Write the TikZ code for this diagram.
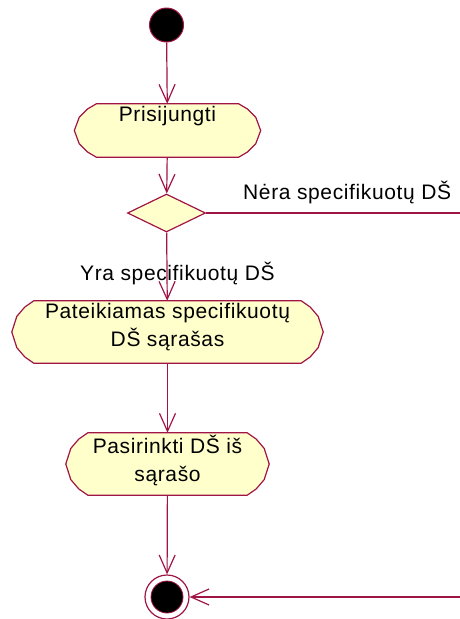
\documentclass[tikz,border=0pt]{standalone}
\usepackage{fontspec}
\setmainfont{Liberation Sans}[LetterSpace=3]
\usetikzlibrary{arrows.meta,shapes.geometric,backgrounds,calc}
\definecolor{flowline}{RGB}{160,20,70}
\definecolor{actfill}{RGB}{255,255,204}
\tikzset{
  flow/.style={draw=flowline, line width=1.2pt},
  arr/.style={flow, -{Straight Barb[length=18pt,width=16pt,line width=1.2pt]}},
  slot/.style={rectangle, inner sep=0pt, draw=none},
  lbl/.style={font=\fontsize{21}{28}\selectfont, align=center, inner sep=0pt},
  acttext/.style={lbl, anchor=north, yshift=-2.5pt},
}
% Activity outline: flat top and bottom, faceted rounded ends
\newcommand\actoutline[1]{%
  \draw[flow, fill=actfill, line join=round]
    let \p1=(#1.north west), \p2=(#1.south east), \n1={\y1-\y2} in
    ({\x1+22pt},\y1) -- ({\x2-22pt},\y1)
    -- ({\x2-13pt},{\y1-0.1*\n1}) -- ({\x2-5pt},{\y1-0.25*\n1})
    -- (\x2,{\y1-0.5*\n1})
    -- ({\x2-5pt},{\y1-0.75*\n1}) -- ({\x2-13pt},{\y1-0.9*\n1})
    -- ({\x2-22pt},\y2) -- ({\x1+22pt},\y2)
    -- ({\x1+13pt},{\y1-0.9*\n1}) -- ({\x1+5pt},{\y1-0.75*\n1})
    -- (\x1,{\y1-0.5*\n1})
    -- ({\x1+5pt},{\y1-0.25*\n1}) -- ({\x1+13pt},{\y1-0.1*\n1})
    -- cycle;}
\begin{document}
\begin{tikzpicture}[x=1pt,y=-1pt]
  \useasboundingbox (0,0) rectangle (460,619);

  % initial state
  \node[circle, fill=black, draw=flowline, line width=1pt, minimum size=34pt, inner sep=0pt] (start) at (166.5,25) {};

  % activities
  \node[slot, minimum width=186pt, minimum height=53pt] (login) at (167.5,130.5) {};
  \node[acttext] (login-t) at (login.north) {Prisijungti};

  \node[diamond, flow, fill=actfill, minimum width=78pt, minimum height=38pt, inner sep=0pt] (dec) at (166.5,213) {};
  \node[lbl, anchor=west] (no-lbl) at (243,193) {Nėra specifikuotų DŠ};
  \node[lbl, anchor=west] (yes-lbl) at (80,274) {Yra specifikuotų DŠ};

  \node[slot, minimum width=311pt, minimum height=62pt] (list) at (167.5,332) {};
  \node[acttext] (list-t) at (list.north) {Pateikiamas specifikuotų\\DŠ sąrašas};

  \node[slot, minimum width=203pt, minimum height=62pt] (choose) at (167.5,464) {};
  \node[acttext] (choose-t) at (choose.north) {Pasirinkti DŠ iš\\sąrašo};

  % final state
  \node[circle, draw=flowline, fill=white, line width=1.2pt, minimum size=44pt, inner sep=0pt] (end) at (167,597) {};
  \node[circle, fill=black, draw=flowline, line width=0.8pt, minimum size=32pt, inner sep=0pt] (end-dot) at (end) {};

  % loose ends of the "none" branch at the right edge
  \coordinate (no-exit) at (460,213);
  \coordinate (no-entry) at (460,597);

  \begin{scope}[on background layer]
    \actoutline{login}
    \actoutline{list}
    \actoutline{choose}
  \end{scope}

  % transitions
  \draw[arr] (start) -- (login);
  \draw[arr] (login) -- (dec);
  \draw[flow] (dec.east) -- (no-exit);
  \draw[arr] (dec) -- (list);
  \draw[arr] (list) -- (choose);
  \draw[arr] (choose) -- (end);
  \draw[arr] (no-entry) -- (end);
\end{tikzpicture}
\end{document}
